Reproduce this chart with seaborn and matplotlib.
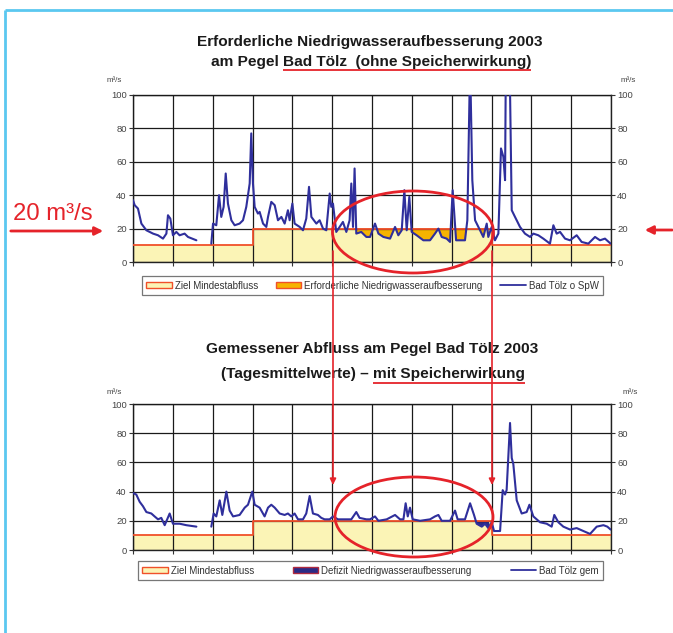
import numpy as np
import pandas as pd
import matplotlib
matplotlib.use("Agg")
import matplotlib.pyplot as plt
import seaborn as sns
from matplotlib.patches import Ellipse, Patch
from matplotlib.lines import Line2D

# ---------------- data ----------------
# Top chart: Bad Tölz ohne Speicherwirkung (day of year, m3/s)
top_jan_days = [0, 1.3, 3.8, 6.4, 10.2, 15.3, 19.1, 22.9, 25.5, 26.7, 28.5, 30.5, 33.1, 35.6, 39.4, 42.0, 48.4]
top_jan_flow = [37, 34, 32, 23, 19, 17, 16, 14, 17, 28, 26, 16, 18, 16, 17, 15, 13]
top_main_days = [59.8, 61.1, 63.6, 65.7, 67.4, 69.2, 70.8, 72.5, 75.1, 77.6,
                 81.4, 84.0, 86.5, 89.1, 90.3, 91.6, 92.9, 95.4, 96.7, 99.3,
                 101.8, 103.1, 105.6, 108.2, 110.7, 113.3, 115.8, 118.3, 119.6, 121.7,
                 123.4, 127.3, 129.8, 132.3, 134.4, 136.2, 140.0, 142.5, 145.1, 147.6,
                 150.2, 151.4, 152.7, 155.2, 157.8, 160.3, 162.9, 165.4, 166.7, 168.0,
                 169.2, 170.5, 174.3, 178.2, 181.0, 184.8, 187.4, 191.2, 196.3, 200.1,
                 202.6, 205.2, 207.2, 209.0, 211.0, 212.8, 216.6, 221.7, 226.8, 230.6,
                 233.2, 235.7, 239.5, 242.1, 244.1, 246.7, 249.7, 253.5, 255.3, 257.4,
                 259.1, 261.2, 265.0, 267.5, 270.1, 271.3, 273.9, 276.4, 279.0, 281.0,
                 282.8, 284.1, 284.8, 287.4, 289.2, 291.7, 295.5, 299.3, 303.2, 305.7,
                 309.5, 313.3, 318.4, 321.0, 323.5, 326.1, 329.9, 333.7, 338.8, 342.6,
                 347.7, 352.8, 356.6, 360.4, 364.7]
top_main_flow = [11, 23, 22, 40, 27, 33, 53, 35, 25, 22,
                 23, 25, 33, 47, 77, 47, 33, 29, 30, 23,
                 21, 27, 36, 34, 25, 27, 23, 31, 25, 35,
                 23, 21, 19, 26, 45, 27, 23, 25, 20, 19,
                 41, 33, 35, 18, 21, 24, 18, 25, 47, 21,
                 56, 17, 18, 15, 15, 23, 17, 15, 14, 21,
                 16, 19, 43, 19, 39, 18, 16, 13, 13, 17,
                 20, 15, 14, 12, 43, 13, 13, 13, 25, 120,
                 49, 25, 19, 15, 23, 15, 21, 13, 17, 68,
                 63, 49, 130, 130, 31, 27, 21, 17, 15, 17,
                 16, 14, 11, 22, 17, 18, 14, 13, 16, 12,
                 11, 15, 13, 14, 11]

# Bottom chart: Bad Tölz gemessen (mit Speicherwirkung)
bot_jan_days = [0, 2.5, 5.1, 7.6, 10.2, 14.0, 16.5, 19.1, 21.6, 24.2, 28.0, 30.5, 35.6, 40.7, 48.4]
bot_jan_flow = [39, 38, 33, 30, 26, 25, 23, 21, 22, 17, 25, 18, 18, 17, 16]
bot_main_days = [59.8, 61.6, 63.6, 66.2, 68.2, 71.3, 73.8, 76.4, 81.4, 85.3,
                 87.8, 91.1, 92.9, 96.7, 100.5, 103.1, 105.6, 108.2, 112.0, 115.8,
                 118.3, 120.9, 123.4, 126.0, 129.8, 132.3, 134.9, 137.4, 141.2, 143.8,
                 146.3, 150.2, 152.7, 156.5, 161.6, 166.7, 170.5, 173.0, 178.2, 181.0,
                 184.8, 187.4, 193.7, 200.1, 203.9, 206.5, 208.2, 209.8, 211.5, 213.6,
                 219.2, 226.8, 230.6, 233.2, 235.7, 242.1, 245.9, 247.9, 253.5, 257.4,
                 260.4, 262.4, 266.3, 268.8, 271.3, 273.9, 275.7, 280.3, 282.3, 284.1,
                 285.3, 287.9, 289.2, 290.4, 293.0, 296.8, 300.6, 302.7, 305.7, 310.8,
                 315.9, 319.7, 321.7, 324.8, 328.6, 333.7, 338.8, 343.9, 349.0, 354.1,
                 359.2, 362.2, 364.7]
bot_main_flow = [16, 25, 23, 34, 24, 40, 27, 23, 24, 29,
                 31, 40, 31, 29, 23, 29, 31, 29, 25, 24,
                 25, 23, 25, 21, 21, 25, 37, 25, 24, 22,
                 21, 21, 23, 21, 21, 21, 26, 22, 21, 21,
                 23, 20, 21, 24, 21, 21, 32, 23, 29, 21,
                 20, 21, 23, 24, 20, 20, 27, 21, 21, 32,
                 24, 18, 16, 18, 15, 19, 13, 13, 41, 38,
                 41, 87, 63, 59, 34, 25, 26, 31, 23, 19,
                 18, 16, 24, 19, 16, 14, 15, 13, 11, 16,
                 17, 16, 14]

# Ziel Mindestabfluss (step function: value valid from day on)
req_days = [0, 91.25, 273.75, 365]
req_vals = [10, 20, 10, 10]

y_ticks = [0, 20, 40, 60, 80, 100]
month_edges = [365 / 12 * k for k in range(13)]

# ---------------- style ----------------
sns.set_style("white")
plt.rcParams['font.family'] = ['Liberation Sans', 'DejaVu Sans']

BLUE = '#2F2F9C'
YELLOW = '#FBF4B6'
REDLINE = '#F0502A'
ORANGE = '#F6B300'
DEFIZIT = '#2A2A86'
RED = '#E5232A'
FRAME = '#5BC8F0'

W, H = 673, 633
fig = plt.figure(figsize=(W / 100, H / 100), dpi=100)
fig.patch.set_facecolor('white')


def make_df(d1, f1, d2, f2):
    return pd.DataFrame({
        'day': list(d1) + list(d2),
        'flow': list(f1) + list(f2),
        'seg': ['a'] * len(d1) + ['b'] * len(d2),
    })


def req_at(x):
    idx = np.searchsorted(req_days, x, side='right') - 1
    return np.array(req_vals)[np.clip(idx, 0, len(req_vals) - 1)]


def setup_axes(rect):
    ax = fig.add_axes(rect)
    ax.set_xlim(0, 365)
    ax.set_ylim(0, 100)
    ax.set_xticks(month_edges)
    ax.set_xticklabels([])
    ax.set_yticks(y_ticks)
    ax.set_yticklabels([str(v) for v in y_ticks])
    ax.grid(True, color='#1a1a1a', lw=0.9)
    ax.set_axisbelow(False)
    ax.tick_params(axis='y', direction='out', length=3, width=0.8, pad=1.5,
                   labelsize=6.8, labelcolor='#444444', left=True, right=True,
                   labelleft=True, labelright=True, color='#333333')
    ax.tick_params(axis='x', direction='out', length=3, width=0.8, bottom=True,
                   color='#333333')
    for s in ax.spines.values():
        s.set_color('#222222')
        s.set_linewidth(1.0)
    ax.set_xlabel('')
    ax.set_ylabel('')
    return ax


def draw_chart(ax, df, fill_color):
    # yellow target area + red target line
    ax.fill_between(req_days, 0, req_vals, step='post', color=YELLOW, lw=0, zorder=1)
    ax.step(req_days, req_vals, where='post', color=REDLINE, lw=1.3, zorder=4)
    # fill between flow and target where flow is below target
    for _, g in df.groupby('seg'):
        x = g['day'].to_numpy()
        y = g['flow'].to_numpy(dtype=float)
        r = req_at(x).astype(float)
        ax.fill_between(x, y, r, where=y < r, interpolate=True, color=fill_color,
                        lw=0, zorder=2)
    sns.lineplot(data=df, x='day', y='flow', units='seg', estimator=None,
                 color=BLUE, lw=1.5, ax=ax, zorder=5, sort=False, legend=False)
    ax.set_xlim(0, 365)
    ax.set_ylim(0, 100)
    ax.set_xlabel('')
    ax.set_ylabel('')


# ---------------- top chart ----------------
ax1 = setup_axes([133 / W, 1 - 262 / H, 478 / W, 167 / H])
df_top = make_df(top_jan_days, top_jan_flow, top_main_days, top_main_flow)
draw_chart(ax1, df_top, ORANGE)

# ---------------- bottom chart ----------------
ax2 = setup_axes([133 / W, 1 - 550 / H, 478 / W, 146 / H])
df_bot = make_df(bot_jan_days, bot_jan_flow, bot_main_days, bot_main_flow)
draw_chart(ax2, df_bot, DEFIZIT)

# ---------------- legends ----------------
leg_kw = dict(loc='center', mode='expand', ncol=3, fontsize=7.0, frameon=True,
              fancybox=False, edgecolor='#555555', borderaxespad=0,
              handlelength=2.6, handleheight=0.6, handletextpad=0.3,
              borderpad=0.45, labelcolor='#333333', columnspacing=0.8)
h_top = [Patch(facecolor=YELLOW, edgecolor=REDLINE, lw=1.0),
         Patch(facecolor=ORANGE, edgecolor=REDLINE, lw=1.0),
         Line2D([0], [0], color=BLUE, lw=1.3)]
l_top = ['Ziel Mindestabfluss', 'Erforderliche Niedrigwasseraufbesserung', 'Bad Tölz o SpW']
lg1 = fig.legend(h_top, l_top, bbox_to_anchor=(142 / W, 1 - 297 / H, 461 / W, 23 / H), **leg_kw)
lg1.get_frame().set_linewidth(0.9)

h_bot = [Patch(facecolor=YELLOW, edgecolor=REDLINE, lw=1.0),
         Patch(facecolor=DEFIZIT, edgecolor='#B02A40', lw=1.0),
         Line2D([0], [0], color=BLUE, lw=1.3)]
l_bot = ['Ziel Mindestabfluss', 'Defizit Niedrigwasseraufbesserung', 'Bad Tölz gem']
lg2 = fig.legend(h_bot, l_bot, bbox_to_anchor=(138 / W, 1 - 583 / H, 465 / W, 25 / H), **leg_kw)
lg2.get_frame().set_linewidth(0.9)

# ---------------- overlay (pixel coordinates) ----------------
ov = fig.add_axes([0, 0, 1, 1], zorder=20)
ov.set_xlim(0, W)
ov.set_ylim(H, 0)
ov.axis('off')
ov.patch.set_alpha(0)

# light blue frame
ov.plot([5, W], [10, 10], color=FRAME, lw=2.0, solid_capstyle='butt')
ov.plot([5, 5], [10, H], color=FRAME, lw=2.0, solid_capstyle='butt')

title_kw = dict(fontsize=11.1, fontweight='bold', color='#1a1a1a', va='center')
ov.text(370, 42, 'Erforderliche Niedrigwasseraufbesserung 2003', ha='center', **title_kw)
ov.text(283, 62, 'am Pegel ', ha='right', **title_kw)
t_u1 = ov.text(283, 62, 'Bad Tölz  (ohne Speicherwirkung)', ha='left', **title_kw)
ov.text(372, 349, 'Gemessener Abfluss am Pegel Bad Tölz 2003', ha='center', **title_kw)
ov.text(373, 374, '(Tagesmittelwerte) – ', ha='right', **title_kw)
t_u2 = ov.text(373, 374, 'mit Speicherwirkung', ha='left', **title_kw)

unit_kw = dict(fontsize=5.8, color='#444444', ha='center', va='center')
ov.text(114, 80, 'm³/s', **unit_kw)
ov.text(628, 80, 'm³/s', **unit_kw)
ov.text(114, 393, 'm³/s', **unit_kw)
ov.text(630, 393, 'm³/s', **unit_kw)

# annotation 20 m3/s with arrows
ov.text(13, 214, '20 m³/s', fontsize=17.2, color=RED, ha='left', va='center')
ov.annotate('', xy=(106, 231), xytext=(8, 231),
            arrowprops=dict(arrowstyle='-|>', color=RED, lw=2.0, mutation_scale=12))
ov.annotate('', xy=(642, 230), xytext=(W + 2, 230),
            arrowprops=dict(arrowstyle='-|>', color=RED, lw=2.0, mutation_scale=12))

# ellipses
ov.add_patch(Ellipse((413, 232), 161, 82, fill=False, edgecolor=RED, lw=2.0))
ov.add_patch(Ellipse((414, 517), 158, 80, fill=False, edgecolor=RED, lw=2.0))

# vertical connecting arrows
for xx in (333, 492):
    ov.annotate('', xy=(xx, 485), xytext=(xx, 251),
                arrowprops=dict(arrowstyle='-|>', color=RED, lw=1.2, mutation_scale=9,
                                shrinkA=0, shrinkB=0))

# underlines for highlighted title parts
fig.canvas.draw()
for t, dy in ((t_u1, 8), (t_u2, 9)):
    bb = t.get_window_extent()
    ov.plot([bb.x0, bb.x1], [t.get_position()[1] + dy] * 2, color=RED, lw=1.3,
            solid_capstyle='butt')

fig.savefig('out.png', dpi=100)
